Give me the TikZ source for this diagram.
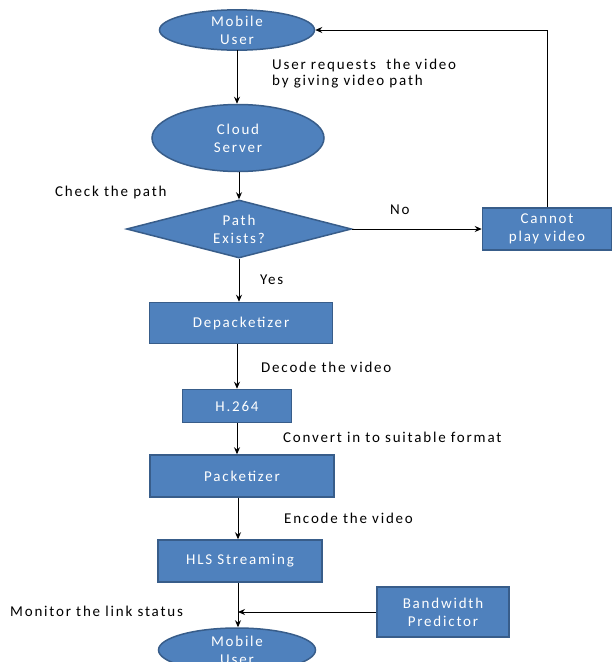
\documentclass[tikz,border=0pt]{standalone}
\usepackage{fontspec}
\setmainfont{Carlito}[LetterSpace=12]
\usetikzlibrary{shapes.geometric,arrows.meta}
\definecolor{boxfill}{HTML}{4F81BD}
\definecolor{boxline}{HTML}{385D8A}
\begin{document}
\begin{tikzpicture}[x=1pt,y=-1pt,
  every node/.style={font=\fontsize{15}{18}\selectfont},
  blk/.style={draw=boxline,line width=1.5pt,fill=boxfill,text=white,align=center,inner sep=0pt},
  oval/.style={blk,ellipse},
  rectbox/.style={blk,rectangle},
  dec/.style={blk,diamond,aspect=3.9},
  lbl/.style={align=left,anchor=west,text=black,inner sep=0pt},
  arr/.style={draw=black,line width=1pt,-{Stealth[length=7pt,width=6pt]}},
  ln/.style={draw=black,line width=1pt}]
\useasboundingbox (0,0) rectangle (616,662);
\node[oval,minimum width=155pt,minimum height=40pt] (mu1) at (237,30) {Mobile\\User};
\node[oval,minimum width=172pt,minimum height=67pt] (cs) at (238,138) {Cloud\\Server};
\node[dec,minimum width=225pt,minimum height=58pt] (pe) at (239,229) {Path\\Exists?};
\node[rectbox,minimum width=129pt,minimum height=42pt] (cp) at (547,229) {Cannot\\play video};
\node[rectbox,minimum width=183pt,minimum height=41pt] (dp) at (241,323) {Depacketizer};
\node[rectbox,minimum width=109pt,minimum height=33pt] (h2) at (237,406) {H.264};
\node[rectbox,minimum width=184pt,minimum height=42pt] (pk) at (242,476) {Packetizer};
\node[rectbox,minimum width=164pt,minimum height=42pt] (hl) at (240,561) {HLS Streaming};
\node[rectbox,minimum width=132pt,minimum height=50pt] (bw) at (443,612) {Bandwidth\\Predictor};
\node[oval,minimum width=157pt,minimum height=44pt] (mu2) at (237,650) {Mobile\\User};

\coordinate (c1) at (547,30);

\draw[arr] (237,50) -- (cs.north -| 237,0);
\draw[arr] (cs.south -| 239,0) -- (pe.north);
\draw[arr] (pe.east) -- (cp.west);
\draw[ln] (cp.north) -- (c1);
\draw[arr] (c1) -- (mu1.east);
\draw[arr] (pe.south) -- (dp.north -| pe.south);
\draw[arr] (dp.south -| 237,0) -- (h2.north);
\draw[arr] (h2.south) -- (pk.north -| h2.south);
\draw[arr] (pk.south -| 238,0) -- (hl.north -| 238,0);
\draw[arr] (hl.south -| 238,0) -- (mu2.north -| 238,0);
\draw[arr] (bw.west) -- (bw.west -| 238,0);

\node[lbl] (l1) at (272,65) {User requests\ \ the video};
\node[lbl] (l2) at (272,82) {by giving video path};
\node[lbl] (l3) at (55,192) {Check the path};
\node[lbl] (l4) at (390,210) {No};
\node[lbl] (l5) at (260,280) {Yes};
\node[lbl] (l6) at (261,367) {Decode the video};
\node[lbl] (l7) at (283,437) {Convert in to suitable format};
\node[lbl] (l8) at (284,518) {Encode the video};
\node[lbl] (l9) at (10,611) {Monitor the link status};
\end{tikzpicture}
\end{document}
